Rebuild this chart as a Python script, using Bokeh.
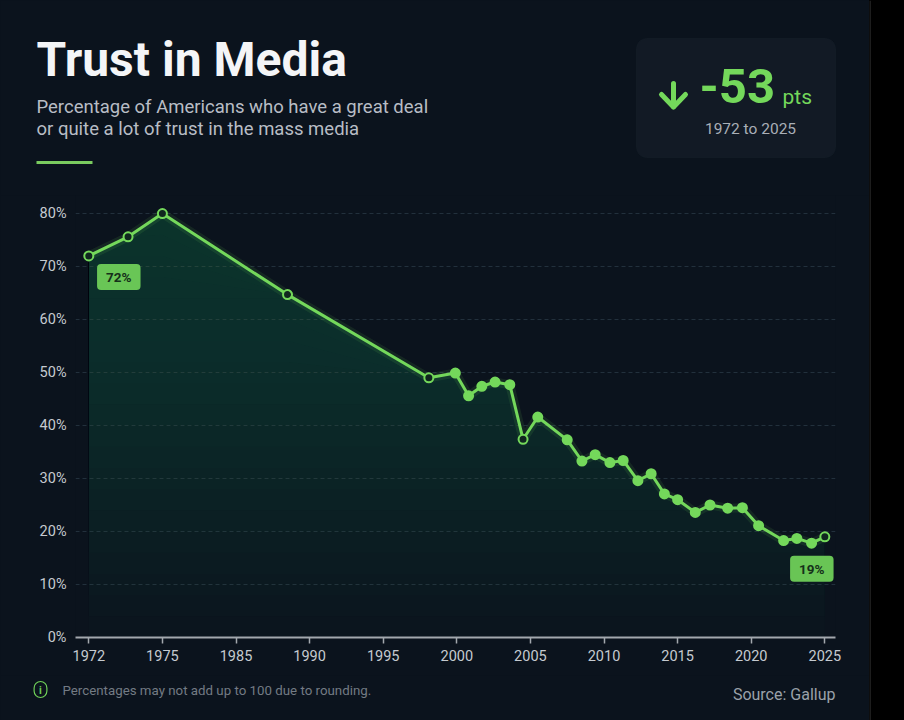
import numpy as np
from bokeh.plotting import figure
from bokeh.models import (Range1d, FixedTicker, PrintfTickFormatter, Label,
                          BoxAnnotation)
from bokeh.layouts import row, column
from bokeh.embed import file_html
from bokeh.resources import INLINE

# Gallup: share of Americans with a great deal / quite a lot of trust in mass media
years = [1972, 1973.6, 1975, 1988.5, 1998.1, 1999.9, 2000.8, 2001.7, 2002.6,
         2003.6, 2004.5, 2005.5, 2007.5, 2008.5, 2009.4, 2010.4, 2011.3,
         2012.3, 2013.2, 2014.1, 2015.0, 2016.2, 2017.2, 2018.4, 2019.4,
         2020.5, 2022.2, 2023.1, 2024.1, 2025]
trust = [72, 75.6, 80, 64.7, 49.0, 49.9, 45.6, 47.4, 48.2, 47.7, 37.4, 41.6,
         37.3, 33.3, 34.5, 33.0, 33.4, 29.6, 30.9, 27.1, 26.0, 23.6, 25.0,
         24.4, 24.5, 21.1, 18.3, 18.7, 17.8, 19]
tick_years = [1972, 1975, 1985, 1990, 1995, 2000, 2005, 2010, 2015, 2020, 2025]
pct_ticks = [0, 10, 20, 30, 40, 50, 60, 70, 80]
open_points = [0, 1, 2, 3, 4, 10, 29]

BG = "#0b131d"
GREEN = "#74d85b"
W = 869                      # card width; a black strip fills the rest
HEAD_H, MAIN_H, FOOT_H = 195, 480, 45
FL, FR = 75, 835             # plot frame left / right edge
AXIS_Y = 637                 # page y of the 0% line


def panel(height, y_top):
    """Full-bleed figure whose data coordinates are page pixels."""
    f = figure(width=W, height=height, output_backend="svg",
               toolbar_location=None, x_axis_type=None, y_axis_type=None,
               x_range=Range1d(0, W), y_range=Range1d(y_top + height, y_top),
               min_border=0, background_fill_color=BG, border_fill_color=BG,
               outline_line_color=None, frame_align=False)
    f.grid.visible = False
    return f


def text_line(f, X, baseline, text, size, **kw):
    """Text whose alphabetic baseline sits at page y `baseline`."""
    f.add_layout(Label(x=X, y=baseline - 0.375 * size, text=text,
                       text_font_size=f"{size}px", text_baseline="alphabetic",
                       **kw))


# ---------------- header ----------------
head = panel(HEAD_H, 0)
text_line(head, 36, 77, "Trust in Media", 48, text_font="Roboto",
          text_font_style="bold", text_color="#f4f5f7")
text_line(head, 36, 113.7, "Percentage of Americans who have a great deal",
          18.5, text_font="Roboto", text_color="#b8bdc5")
text_line(head, 36, 135.5, "or quite a lot of trust in the mass media",
          18.5, text_font="Roboto", text_color="#b8bdc5")
head.add_layout(BoxAnnotation(left=36, right=92, top=160.5, bottom=163.5,
                              fill_color="#7acb5f", fill_alpha=1,
                              line_color=None))

# change summary card
change = trust[-1] - trust[0]
head.add_layout(BoxAnnotation(left=636, right=835, top=38, bottom=157,
                              fill_color="#121a25", fill_alpha=1,
                              line_color="#1e2833", line_width=1,
                              border_radius=10, level="underlay"))
# down arrow
head.line([673, 673], [83, 106], line_color=GREEN, line_width=5,
          line_cap="round")
head.line([661, 673, 685], [94, 106.5, 94], line_color=GREEN, line_width=5,
          line_cap="round", line_join="round")
text_line(head, 699, 104, f"{change:.0f}", 49, text_font="Roboto",
          text_font_style="bold", text_color=GREEN)
text_line(head, 782, 104, "pts", 21, text_font="Roboto", text_color=GREEN)
text_line(head, 750, 134, f"{years[0]} to {years[-1]}", 15.5,
          text_font="Roboto", text_color="#a9afb7", text_align="center")


# ---------------- chart ----------------
# Tick years sit evenly along the axis; data years are placed piecewise between them
def axis_pos(yrs):
    return np.interp(yrs, tick_years, np.arange(len(tick_years)))


x = axis_pos(years)
v = np.array(trust, dtype=float)

p = figure(width=W, height=MAIN_H, output_backend="svg", toolbar_location=None,
           x_range=Range1d(-0.1807, 10.145), y_range=Range1d(0, 83.4),
           min_border_left=FL, min_border_right=W - FR,
           min_border_top=0, min_border_bottom=HEAD_H + MAIN_H - AXIS_Y,
           background_fill_color=BG, border_fill_color=BG,
           outline_line_color=None, frame_align=False)

xa = p.xaxis[0]
xa.ticker = FixedTicker(ticks=list(range(len(tick_years))))
xa.major_label_overrides = {i: str(yr) for i, yr in enumerate(tick_years)}
xa.axis_line_color = "#a3a8ae"
xa.axis_line_width = 2
xa.major_tick_line_color = "#a3a8ae"
xa.major_tick_line_width = 1.5
xa.major_tick_in = 0
xa.major_tick_out = 6
xa.minor_tick_line_color = None
xa.major_label_text_color = "#c5cad0"
xa.major_label_text_font = "Roboto"
xa.major_label_text_font_size = "14.5px"
xa.major_label_standoff = 6

ya = p.yaxis[0]
ya.ticker = FixedTicker(ticks=pct_ticks)
ya.formatter = PrintfTickFormatter(format="%d%%")
ya.axis_line_color = None
ya.major_tick_line_color = None
ya.major_tick_out = 0
ya.major_tick_in = 0
ya.minor_tick_line_color = None
ya.major_label_text_color = "#c5cad0"
ya.major_label_text_font = "Roboto"
ya.major_label_text_font_size = "14.5px"
ya.major_label_standoff = 9

p.xgrid.visible = False
p.ygrid.ticker = FixedTicker(ticks=pct_ticks)
p.ygrid.grid_line_color = "#22303c"
p.ygrid.grid_line_dash = "4 3"
p.ygrid.grid_line_width = 1

# green area, stronger towards the top
for t in np.arange(0, 80, 4):
    p.varea(x=x, y1=np.minimum(v, t), y2=v, fill_color="#2d7d55",
            fill_alpha=0.025)

# trend line with soft glow
p.line(x, v, line_color=GREEN, line_width=9, line_alpha=0.10)
p.line(x, v, line_color=GREEN, line_width=3)
fills = ["#10261f" if i in open_points else GREEN for i in range(len(v))]
p.scatter(x, v, size=9, fill_color=fills, line_color=GREEN, line_width=2)

# value badges on the first and last points
for i, dx, dy in [(0, 30, -21), (len(v) - 1, -13, -32)]:
    p.add_layout(Label(x=x[i], y=v[i], x_offset=dx, y_offset=dy,
                       text=f"{trust[i]:.0f}%", text_font="Roboto",
                       text_font_style="bold", text_font_size="13.5px",
                       text_color="#15301a", text_align="center",
                       text_baseline="middle",
                       background_fill_color="#6fcf58",
                       background_fill_alpha=0.95,
                       padding=(9, 9, 5, 5), border_radius=4))

# ---------------- footer ----------------
foot = panel(FOOT_H, HEAD_H + MAIN_H)
foot.add_layout(Label(x=40, y=689, text="i", text_font="Roboto",
                      text_font_style="bold", text_font_size="10.5px",
                      text_color="#6fcf58", text_align="center",
                      text_baseline="middle", border_line_color="#6fcf58",
                      border_line_width=1.2, border_radius=7,
                      padding=(5, 5, 2, 1)))
text_line(foot, 62, 695, "Percentages may not add up to 100 due to rounding.",
          13.3, text_font="Roboto", text_color="#737b84")
text_line(foot, 835, 700, "Source: Gallup", 16, text_font="Roboto",
          text_color="#9aa1a9", text_align="right")

# ---------------- black strip at the right ----------------
SW = 904 - W
strip = figure(width=SW, height=HEAD_H + MAIN_H + FOOT_H, output_backend="svg",
               toolbar_location=None, x_axis_type=None, y_axis_type=None,
               x_range=Range1d(0, SW), y_range=Range1d(0, 720), min_border=0,
               background_fill_color="#000000", border_fill_color="#000000",
               outline_line_color=None, frame_align=False)
strip.grid.visible = False
strip.line([0.5, 0.5], [0, 720], line_color="#3a3a3a", line_width=1)

card = column(head, p, foot, styles={"background-color": BG})
layout = row(card, strip, styles={"background-color": "#000000"})
open("out.html", "w").write(file_html(layout, INLINE))
